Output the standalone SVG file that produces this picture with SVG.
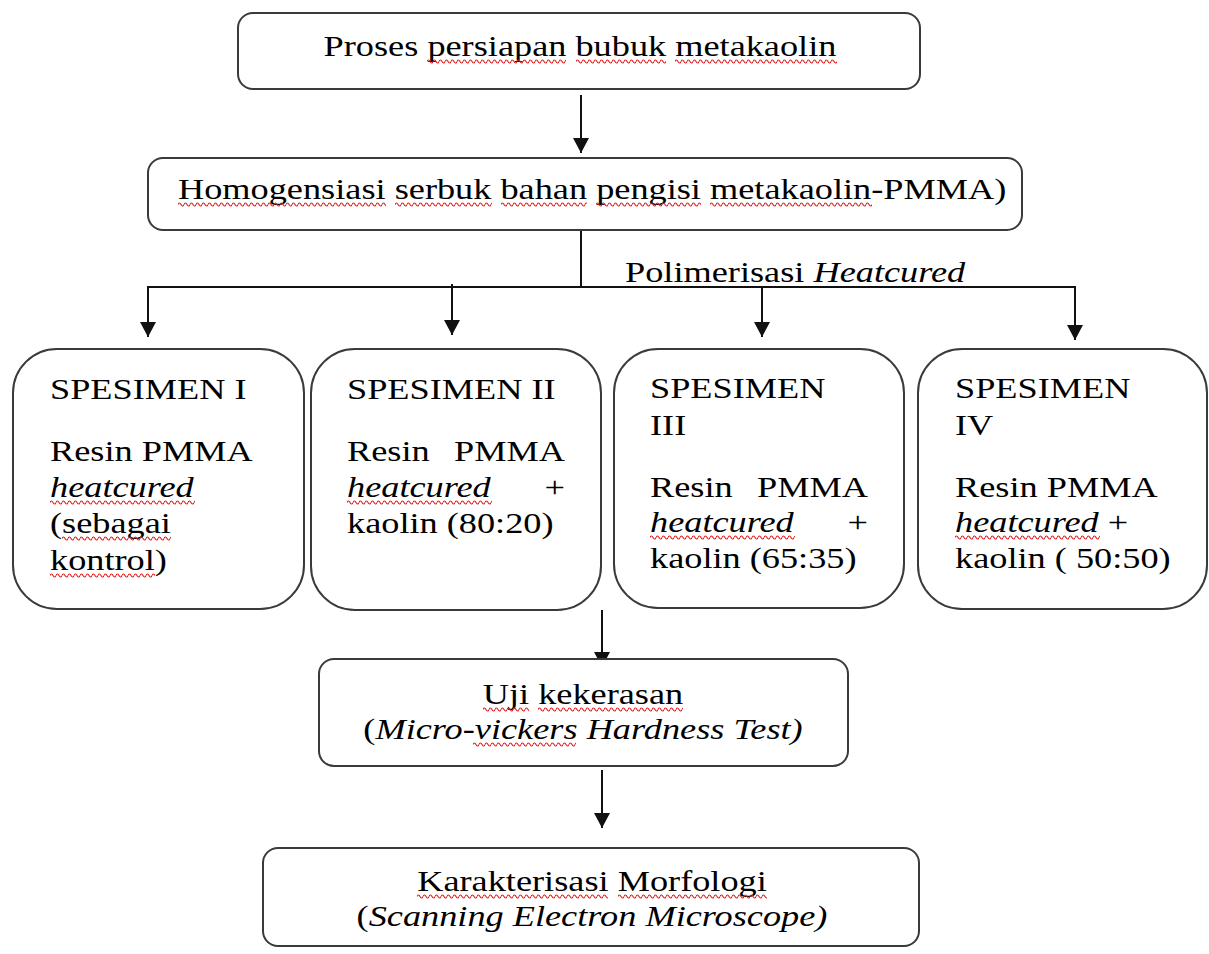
<svg xmlns="http://www.w3.org/2000/svg" width="1209" height="954" viewBox="0 0 1209 954">
<style>
.box{fill:#fff;stroke:#3a3a3a;stroke-width:2}
.ln{fill:none;stroke:#111;stroke-width:2}
.t{font-family:"Liberation Serif","Times New Roman",serif;font-size:30px;fill:#000}
.i{font-style:italic}
.w{fill:url(#wv)}
</style>
<defs>
<marker id="ah" markerUnits="userSpaceOnUse" markerWidth="16" markerHeight="16" viewBox="0 0 16 16" refX="15" refY="8" orient="auto">
<path d="M0,0 L15,8 L0,16 Z" fill="#111"/>
</marker>
<pattern id="wv" patternUnits="userSpaceOnUse" width="6" height="7">
<path d="M0,3.5 Q1.5,0.5 3,3.5 T6,3.5" fill="none" stroke="#e02020" stroke-width="1.2"/>
</pattern>
</defs>
<rect width="1209" height="954" fill="#fff"/>
<g id="connectors">
<line class="ln" x1="581" y1="95" x2="581" y2="153" marker-end="url(#ah)"/>
<line class="ln" x1="581" y1="230" x2="581" y2="287"/>
<line class="ln" x1="147" y1="287" x2="1076" y2="287"/>
<line class="ln" x1="148" y1="287" x2="148" y2="337" marker-end="url(#ah)"/>
<line class="ln" x1="452" y1="284" x2="452" y2="335" marker-end="url(#ah)"/>
<line class="ln" x1="762" y1="287" x2="762" y2="337" marker-end="url(#ah)"/>
<line class="ln" x1="1075" y1="287" x2="1075" y2="340" marker-end="url(#ah)"/>
<line class="ln" x1="602" y1="610" x2="602" y2="667" marker-end="url(#ah)"/>
<line class="ln" x1="602" y1="770" x2="602" y2="828" marker-end="url(#ah)"/>
<text class="t" transform="translate(625,282) scale(1.21,1)">Polimerisasi <tspan class="i">Heatcured</tspan></text>
</g>
<g id="n-persiapan">
<rect class="box" x="238" y="13" width="682" height="76" rx="15"/>
<text class="t" text-anchor="middle" transform="translate(580,56) scale(1.21,1)">Proses persiapan bubuk metakaolin</text>
<rect class="w" transform="translate(427,58)" width="139" height="7"/>
<rect class="w" transform="translate(576,58)" width="90" height="7"/>
<rect class="w" transform="translate(675,58)" width="162" height="7"/>
</g>
<g id="n-homogen">
<rect class="box" x="148" y="158" width="874" height="72" rx="15"/>
<text class="t" transform="translate(178,199) scale(1.21,1)">Homogensiasi serbuk bahan pengisi metakaolin-PMMA)</text>
<rect class="w" transform="translate(178,201)" width="208" height="7"/>
<rect class="w" transform="translate(395,201)" width="97" height="7"/>
<rect class="w" transform="translate(501,201)" width="86" height="7"/>
<rect class="w" transform="translate(596,201)" width="105" height="7"/>
<rect class="w" transform="translate(710,201)" width="162" height="7"/>
</g>
<g id="n-spesimen1">
<rect class="box" x="13" y="349" width="291" height="260" rx="44"/>
<text class="t" transform="translate(50,399) scale(1.21,1)">SPESIMEN I</text>
<text class="t" transform="translate(50,461) scale(1.21,1)">Resin PMMA</text>
<text class="t i" transform="translate(50,497) scale(1.21,1)">heatcured</text>
<text class="t" transform="translate(50,533) scale(1.21,1)">(sebagai</text>
<text class="t" transform="translate(50,570) scale(1.21,1)">kontrol)</text>
<rect class="w" transform="translate(50,499)" width="145" height="7"/>
<rect class="w" transform="translate(62,535)" width="109" height="7"/>
<rect class="w" transform="translate(50,572)" width="105" height="7"/>
</g>
<g id="n-spesimen2">
<rect class="box" x="311" y="349" width="290" height="261" rx="44"/>
<text class="t" transform="translate(347,399) scale(1.21,1)">SPESIMEN II</text>
<text class="t" transform="translate(347,461) scale(1.21,1)">Resin</text>
<text class="t" text-anchor="end" transform="translate(565,461) scale(1.21,1)">PMMA</text>
<text class="t i" transform="translate(347,497) scale(1.21,1)">heatcured</text>
<text class="t" text-anchor="end" transform="translate(565,497) scale(1.21,1)">+</text>
<text class="t" transform="translate(347,533) scale(1.21,1)">kaolin (80:20)</text>
<rect class="w" transform="translate(347,499)" width="145" height="7"/>
</g>
<g id="n-spesimen3">
<rect class="box" x="614" y="349" width="290" height="259" rx="44"/>
<text class="t" transform="translate(650,398) scale(1.21,1)">SPESIMEN</text>
<text class="t" transform="translate(650,435) scale(1.21,1)">III</text>
<text class="t" transform="translate(650,497) scale(1.21,1)">Resin</text>
<text class="t" text-anchor="end" transform="translate(868,497) scale(1.21,1)">PMMA</text>
<text class="t i" transform="translate(650,532) scale(1.21,1)">heatcured</text>
<text class="t" text-anchor="end" transform="translate(868,532) scale(1.21,1)">+</text>
<text class="t" transform="translate(650,568) scale(1.21,1)">kaolin (65:35)</text>
<rect class="w" transform="translate(650,534)" width="145" height="7"/>
</g>
<g id="n-spesimen4">
<rect class="box" x="918" y="349" width="289" height="260" rx="44"/>
<text class="t" transform="translate(955,398) scale(1.21,1)">SPESIMEN</text>
<text class="t" transform="translate(955,435) scale(1.21,1)">IV</text>
<text class="t" transform="translate(955,497) scale(1.21,1)">Resin PMMA</text>
<text class="t" transform="translate(955,532) scale(1.21,1)"><tspan class="i">heatcured</tspan> +</text>
<text class="t" transform="translate(955,568) scale(1.21,1)">kaolin ( 50:50)</text>
<rect class="w" transform="translate(955,534)" width="145" height="7"/>
</g>
<g id="n-uji">
<rect class="box" x="319" y="659" width="529" height="107" rx="15"/>
<text class="t" text-anchor="middle" transform="translate(583,704) scale(1.21,1)">Uji kekerasan</text>
<text class="t" text-anchor="middle" transform="translate(583,739) scale(1.21,1)">(<tspan class="i">Micro-vickers Hardness Test)</tspan></text>
<rect class="w" transform="translate(483,706)" width="46" height="7"/>
<rect class="w" transform="translate(538,706)" width="145" height="7"/>
<rect class="w" transform="translate(473,741)" width="103" height="7"/>
</g>
<g id="n-sem">
<rect class="box" x="263" y="848" width="656" height="98" rx="15"/>
<text class="t" text-anchor="middle" transform="translate(592,891) scale(1.21,1)">Karakterisasi Morfologi</text>
<text class="t" text-anchor="middle" transform="translate(592,926) scale(1.21,1)">(<tspan class="i">Scanning Electron Microscope)</tspan></text>
<rect class="w" transform="translate(417,893)" width="191" height="7"/>
<rect class="w" transform="translate(618,893)" width="149" height="7"/>
</g>
</svg>
